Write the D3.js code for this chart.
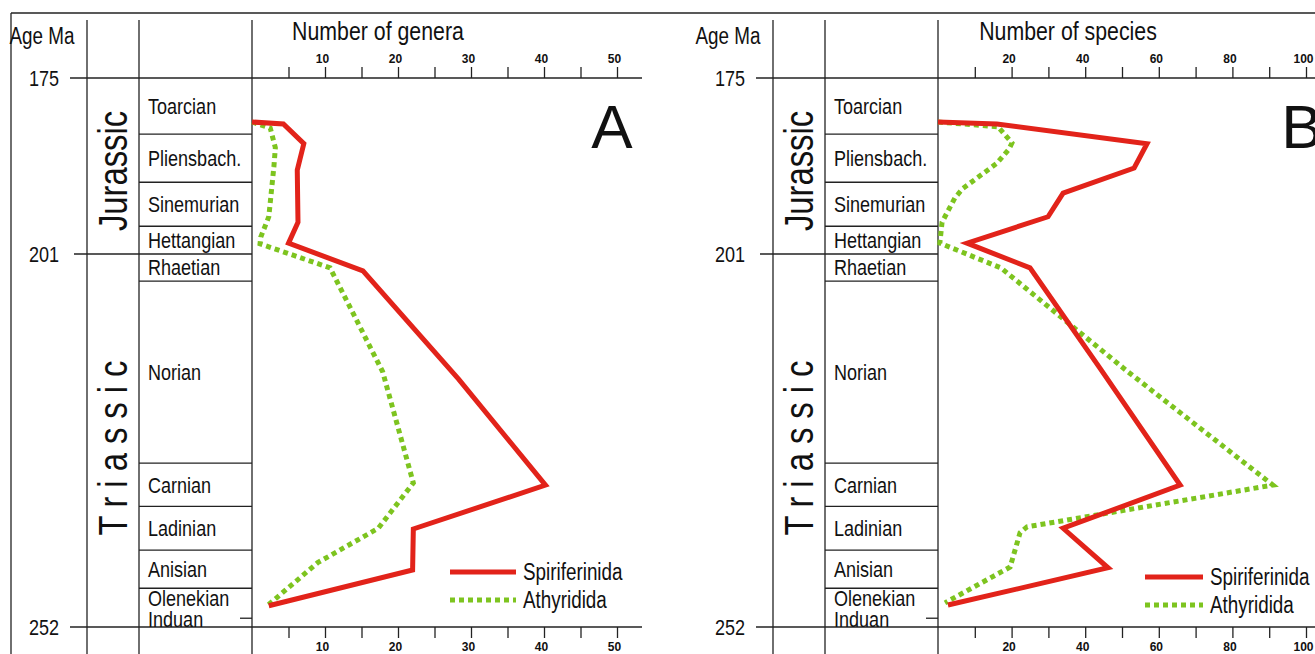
<!DOCTYPE html>
<html>
<head>
<meta charset="utf-8">
<script src="https://cdn.jsdelivr.net/npm/d3@7"></script>
<style>
  body { margin: 0; background: #fff; }
  svg { display: block; }
  text { font-family: 'Liberation Sans', Arial, sans-serif; fill: #111; }
</style>
</head>
<body>
<div id="chart"></div>
<script>
// stages (top to bottom) and the age at the base of each one, as placed in the figure
var stages = ['Toarcian', 'Pliensbach.', 'Sinemurian', 'Hettangian', 'Rhaetian', 'Norian',
  'Carnian', 'Ladinian', 'Anisian', 'Olenekian', 'Induan'];
var stageBase = [183.3, 190.4, 196.9, 201, 204.7, 229.6, 235.5, 241.5, 246.7, 250.8, 252];
var periods = ['Jurassic', 'Triassic'];
var periodBase = [201, 252];
var ageTicks = [175, 201, 252];

// panel A: number of genera
var genSpirAge = [181.5, 181.8, 184.7, 188.6, 196.3, 199.4, 203.3, 218.1, 232.6, 238.6, 244.2, 249.1];
var genSpir = [0, 4.3, 7.1, 6.2, 6.3, 5.0, 15.2, 28.3, 40.2, 22.1, 22.0, 2.3];
var genAthyAge = [181.5, 182.4, 185.3, 188.1, 195.5, 198.5, 199.5, 202.9, 217.1, 232.3, 238.5, 243.2, 249.0];
var genAthy = [0, 2.5, 3.2, 3.0, 2.3, 1.2, 1.1, 10.7, 17.9, 22.1, 17.3, 9.0, 2.2];

// panel B: number of species
var spSpirAge = [181.5, 181.8, 184.7, 188.3, 192.0, 195.5, 199.4, 202.9, 216.6, 232.6, 238.5, 243.9, 249.0];
var spSpir = [0, 16.0, 56.8, 53.3, 34.0, 29.9, 7.9, 25.0, 44.0, 65.8, 34.0, 46.2, 2.7];
var spAthyAge = [181.5, 182.2, 184.6, 185.5, 187.6, 191.3, 192.7, 196.3, 199.4, 202.9, 217.1, 232.6, 238.3, 239.1, 243.8, 248.7];
var spAthy = [0, 16.3, 20.1, 19.3, 16.0, 6.8, 4.6, 1.1, 0.5, 17.1, 51.6, 91.0, 24.2, 22.3, 19.6, 1.9];

var seriesNames = ['Spiriferinida', 'Athyridida'];

var width = 1315, height = 654;
var RED = '#e2231a', GREEN = '#7dc41f';
var NARROW = 0.82; // the figure uses a condensed face, fake it with a horizontal squeeze

var svg = d3.select('#chart').append('svg')
  .attr('width', width).attr('height', height);

// vertical age scale (figure is not linear between periods)
var y = d3.scaleLinear().domain([175, 201, 252]).range([78, 254, 627]);

function narrowAt(x0, y0, rot) {
  return 'translate(' + x0 + ',' + y0 + ')' + (rot ? ' rotate(' + rot + ')' : '') + ' scale(' + NARROW + ',1)';
}

// outer frame: top and left edges
svg.append('line').attr('x1', 11).attr('x2', width).attr('y1', 13).attr('y2', 13)
  .attr('stroke', '#222').attr('stroke-width', 1.3);
svg.append('line').attr('x1', 11).attr('x2', 11).attr('y1', 13).attr('y2', height)
  .attr('stroke', '#222').attr('stroke-width', 1.3);

var panels = [
  { dx: 0, max: 50, step: 5, labelEvery: 10, rangeEnd: 617, axisEnd: 642,
    title: 'Number of genera', titleX: 378, letter: 'A', letterX: 612,
    spir: [genSpirAge, genSpir], athy: [genAthyAge, genAthy], legX: 450, legY: 572, legLen: 66 },
  { dx: 686, max: 100, step: 10, labelEvery: 20, rangeEnd: 1306, axisEnd: 1330,
    title: 'Number of species', titleX: 1068, letter: 'B', letterX: 1302,
    spir: [spSpirAge, spSpir], athy: [spAthyAge, spAthy], legX: 1145, legY: 577, legLen: 58 }
];

panels.forEach(function (p) {
  var g = svg.append('g');
  var colAge = 87 + p.dx, colStage = 139 + p.dx, colPlot = 252 + p.dx;
  var x = d3.scaleLinear().domain([0, p.max]).range([colPlot, p.rangeEnd]);

  // column separators
  [colAge, colStage, colPlot].forEach(function (cx) {
    g.append('line').attr('x1', cx).attr('x2', cx).attr('y1', 20).attr('y2', height)
      .attr('stroke', '#222').attr('stroke-width', 1.3);
  });

  // age lines
  g.selectAll('line.age').data(ageTicks).enter().append('line')
    .attr('class', 'age')
    .attr('x1', function (d) { return d === 201 ? 74 + p.dx : 70 + p.dx; })
    .attr('x2', function (d) { return d === 201 ? colPlot : p.axisEnd; })
    .attr('y1', function (d) { return y(d); }).attr('y2', function (d) { return y(d); })
    .attr('stroke', '#222').attr('stroke-width', 1.3);
  g.selectAll('text.age').data(ageTicks).enter().append('text')
    .attr('class', 'age')
    .attr('transform', function (d) { return narrowAt(59 + p.dx, y(d) + 8); })
    .attr('text-anchor', 'end').attr('font-size', 22)
    .text(function (d) { return d; });
  g.append('text')
    .attr('transform', narrowAt(42 + p.dx, 44))
    .attr('text-anchor', 'middle').attr('font-size', 23).text('Age Ma');

  // stage boxes
  var tops = [175].concat(stageBase.slice(0, -1));
  var inner = stageBase.filter(function (d) { return d !== 201 && d !== 252 && d !== 250.8; });
  g.selectAll('line.stage').data(inner).enter().append('line')
    .attr('x1', colStage).attr('x2', colPlot)
    .attr('y1', function (d) { return y(d); }).attr('y2', function (d) { return y(d); })
    .attr('stroke', '#222').attr('stroke-width', 1.3);
  // small tick for Olenekian / Induan boundary
  g.append('line').attr('x1', colPlot - 12).attr('x2', colPlot)
    .attr('y1', y(250.8)).attr('y2', y(250.8)).attr('stroke', '#222').attr('stroke-width', 1.3);
  g.selectAll('text.stage').data(stages).enter().append('text')
    .attr('class', 'stage')
    .attr('transform', function (d, i) {
      var mid = (y(tops[i]) + y(stageBase[i])) / 2;
      if (d === 'Olenekian') mid -= 5;
      if (d === 'Induan') mid -= 4;
      return narrowAt(colStage + 9, mid);
    })
    .attr('dy', '0.36em').attr('font-size', 22)
    .text(function (d) { return d; });

  // periods
  var pTops = [175].concat(periodBase.slice(0, -1));
  g.selectAll('text.period').data(periods).enter().append('text')
    .attr('class', 'period')
    .attr('transform', function (d, i) {
      var cy = (y(pTops[i]) + y(periodBase[i])) / 2 + (i === 0 ? 5 : 3);
      return narrowAt(127 + p.dx, cy, -90);
    })
    .attr('text-anchor', 'middle').attr('font-size', 40)
    .attr('letter-spacing', function (d, i) { return i === 1 ? 11 : 0; })
    .text(function (d) { return d; });

  // top and bottom axes
  var ticks = d3.range(p.step, p.max + 0.001, p.step);
  var fmt = function (d) { return d % p.labelEvery === 0 ? d : ''; };
  var top = g.append('g').attr('transform', 'translate(0,' + y(175) + ')')
    .call(d3.axisTop(x).tickValues(ticks).tickSize(11).tickPadding(4).tickFormat(fmt));
  var bot = g.append('g').attr('transform', 'translate(0,' + y(252) + ')')
    .call(d3.axisBottom(x).tickValues(ticks).tickSize(11).tickPadding(4).tickFormat(fmt));
  [top, bot].forEach(function (a) {
    a.select('.domain').remove();
    a.selectAll('line').attr('stroke', '#222').attr('stroke-width', 1.3);
    a.selectAll('text').attr('font-size', 12).attr('font-weight', 'bold').attr('dx', -3)
      .attr('font-family', "'Liberation Sans', Arial, sans-serif").attr('fill', '#111');
  });

  g.append('text')
    .attr('transform', narrowAt(p.titleX, 40))
    .attr('text-anchor', 'middle').attr('font-size', 26)
    .text(p.title);

  g.append('text')
    .attr('x', p.letterX).attr('y', 148).attr('text-anchor', 'middle')
    .attr('font-size', 62).text(p.letter);

  // series lines
  var line = d3.line()
    .x(function (d) { return x(d[1]); })
    .y(function (d) { return y(d[0]); });
  var spirPts = d3.zip(p.spir[0], p.spir[1]);
  var athyPts = d3.zip(p.athy[0], p.athy[1]);
  g.append('path').datum(athyPts).attr('d', line)
    .attr('fill', 'none').attr('stroke', GREEN).attr('stroke-width', 5)
    .attr('stroke-dasharray', '5 4');
  g.append('path').datum(spirPts).attr('d', line)
    .attr('fill', 'none').attr('stroke', RED).attr('stroke-width', 5)
    .attr('stroke-linejoin', 'miter');

  // legend
  var leg = g.selectAll('g.leg').data(seriesNames).enter().append('g')
    .attr('transform', function (d, i) { return 'translate(' + p.legX + ',' + (p.legY + i * 28) + ')'; });
  leg.append('line').attr('x1', 0).attr('x2', p.legLen)
    .attr('stroke', function (d, i) { return i === 0 ? RED : GREEN; })
    .attr('stroke-width', 5)
    .attr('stroke-dasharray', function (d, i) { return i === 0 ? null : '5 4'; });
  leg.append('text')
    .attr('transform', narrowAt(p.legLen + 7, 0))
    .attr('dy', '0.36em').attr('font-size', 23)
    .text(function (d) { return d; });
});
</script>
</body>
</html>
